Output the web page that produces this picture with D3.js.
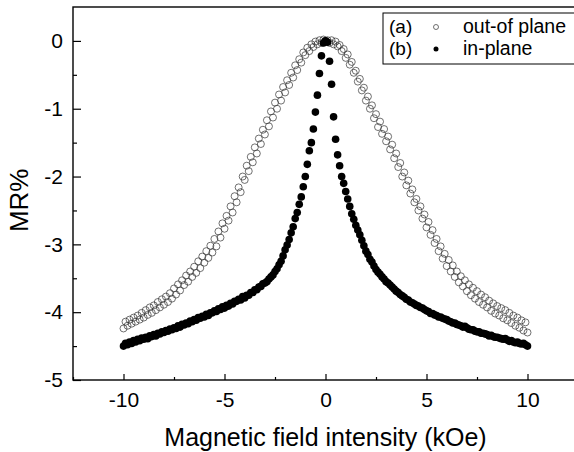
<!DOCTYPE html>
<html>
<head>
<meta charset="utf-8">
<script src="https://d3js.org/d3.v7.min.js"></script>
<style>
  body { margin: 0; background: #fff; }
  text { font-family: 'Liberation Sans', Arial, sans-serif; fill: #000; }
</style>
</head>
<body>
<svg id="svg" width="574" height="452"></svg>
<script>
// field sweep in kOe
const field = [
  -10.0,-9.9,-9.8,-9.7,-9.6,-9.5,-9.4,-9.3,-9.2,-9.1,
  -9.0,-8.9,-8.8,-8.7,-8.6,-8.5,-8.4,-8.3,-8.2,-8.1,
  -8.0,-7.9,-7.8,-7.7,-7.6,-7.5,-7.4,-7.3,-7.2,-7.1,
  -7.0,-6.9,-6.8,-6.7,-6.6,-6.5,-6.4,-6.3,-6.2,-6.1,
  -6.0,-5.9,-5.8,-5.7,-5.6,-5.5,-5.4,-5.3,-5.2,-5.1,
  -5.0,-4.9,-4.8,-4.7,-4.6,-4.5,-4.4,-4.3,-4.2,-4.1,
  -4.0,-3.9,-3.8,-3.7,-3.6,-3.5,-3.4,-3.3,-3.2,-3.1,
  -3.0,-2.9,-2.8,-2.7,-2.6,-2.5,-2.4,-2.3,-2.2,-2.1,
  -2.0,-1.9,-1.8,-1.7,-1.6,-1.5,-1.4,-1.3,-1.2,-1.1,
  -1.0,-0.9,-0.8,-0.7,-0.6,-0.5,-0.4,-0.3,-0.2,-0.1,
  0.0,
  0.1,0.2,0.3,0.4,0.5,0.6,0.7,0.8,0.9,1.0,
  1.1,1.2,1.3,1.4,1.5,1.6,1.7,1.8,1.9,2.0,
  2.1,2.2,2.3,2.4,2.5,2.6,2.7,2.8,2.9,3.0,
  3.1,3.2,3.3,3.4,3.5,3.6,3.7,3.8,3.9,4.0,
  4.1,4.2,4.3,4.4,4.5,4.6,4.7,4.8,4.9,5.0,
  5.1,5.2,5.3,5.4,5.5,5.6,5.7,5.8,5.9,6.0,
  6.1,6.2,6.3,6.4,6.5,6.6,6.7,6.8,6.9,7.0,
  7.1,7.2,7.3,7.4,7.5,7.6,7.7,7.8,7.9,8.0,
  8.1,8.2,8.3,8.4,8.5,8.6,8.7,8.8,8.9,9.0,
  9.1,9.2,9.3,9.4,9.5,9.6,9.7,9.8,9.9,10.0
];

// (a) out-of plane, MR%
const outOfPlane = [
  -4.24,-4.14,-4.20,-4.11,-4.17,-4.08,-4.14,-4.05,-4.11,-4.01,
  -4.08,-3.97,-4.04,-3.93,-4.01,-3.90,-3.97,-3.85,-3.93,-3.81,
  -3.89,-3.77,-3.85,-3.72,-3.80,-3.65,-3.74,-3.59,-3.68,-3.53,
  -3.60,-3.46,-3.55,-3.40,-3.48,-3.33,-3.42,-3.25,-3.35,-3.18,
  -3.27,-3.10,-3.20,-3.02,-3.12,-2.92,-3.03,-2.81,-2.90,-2.69,
  -2.77,-2.58,-2.65,-2.44,-2.53,-2.29,-2.38,-2.16,-2.23,-2.00,
  -2.05,-1.84,-1.92,-1.71,-1.79,-1.57,-1.66,-1.44,-1.52,-1.31,
  -1.38,-1.17,-1.26,-1.04,-1.13,-0.91,-1.00,-0.79,-0.88,-0.68,
  -0.76,-0.58,-0.65,-0.47,-0.54,-0.36,-0.43,-0.27,-0.32,-0.17,
  -0.21,-0.10,-0.15,-0.05,-0.09,-0.01,-0.05,0.01,-0.03,0.02,
  0.00,
  0.01,-0.03,0.01,-0.05,-0.01,-0.08,-0.06,-0.15,-0.12,-0.25,
  -0.20,-0.35,-0.31,-0.47,-0.44,-0.60,-0.56,-0.73,-0.69,-0.88,
  -0.82,-1.00,-0.95,-1.14,-1.08,-1.27,-1.19,-1.37,-1.30,-1.48,
  -1.41,-1.60,-1.53,-1.73,-1.66,-1.86,-1.80,-2.00,-1.94,-2.13,
  -2.06,-2.25,-2.19,-2.38,-2.33,-2.50,-2.44,-2.62,-2.56,-2.75,
  -2.67,-2.86,-2.79,-2.98,-2.92,-3.10,-3.03,-3.21,-3.14,-3.32,
  -3.23,-3.40,-3.31,-3.48,-3.40,-3.56,-3.47,-3.62,-3.53,-3.69,
  -3.59,-3.75,-3.64,-3.80,-3.69,-3.85,-3.74,-3.89,-3.78,-3.93,
  -3.83,-3.98,-3.87,-4.02,-3.91,-4.05,-3.94,-4.09,-3.97,-4.12,
  -4.01,-4.16,-4.05,-4.20,-4.08,-4.23,-4.12,-4.27,-4.15,-4.30
];

// (b) in-plane, MR%
const inPlane = [
  -4.50,-4.46,-4.48,-4.44,-4.46,-4.42,-4.44,-4.40,-4.42,-4.38,
  -4.40,-4.37,-4.39,-4.35,-4.36,-4.33,-4.35,-4.31,-4.32,-4.29,
  -4.30,-4.27,-4.28,-4.25,-4.26,-4.23,-4.24,-4.20,-4.22,-4.18,
  -4.19,-4.16,-4.17,-4.13,-4.14,-4.11,-4.12,-4.08,-4.09,-4.06,
  -4.07,-4.03,-4.05,-4.01,-4.01,-3.98,-3.99,-3.95,-3.96,-3.92,
  -3.94,-3.90,-3.91,-3.87,-3.88,-3.84,-3.84,-3.81,-3.82,-3.77,
  -3.79,-3.75,-3.75,-3.71,-3.71,-3.67,-3.67,-3.63,-3.62,-3.58,
  -3.57,-3.55,-3.51,-3.48,-3.45,-3.40,-3.36,-3.30,-3.25,-3.17,
  -3.08,-3.01,-2.93,-2.83,-2.74,-2.62,-2.53,-2.41,-2.30,-2.15,
  -2.00,-1.82,-1.62,-1.50,-1.30,-1.05,-0.80,-0.48,-0.22,-0.03,
  0.00,
  -0.02,-0.30,-0.64,-1.12,-1.45,-1.68,-1.84,-2.00,-2.10,-2.22,
  -2.33,-2.44,-2.55,-2.63,-2.72,-2.79,-2.86,-2.94,-3.02,-3.10,
  -3.15,-3.22,-3.26,-3.32,-3.37,-3.41,-3.44,-3.48,-3.51,-3.55,
  -3.57,-3.60,-3.63,-3.66,-3.69,-3.71,-3.74,-3.76,-3.78,-3.81,
  -3.82,-3.85,-3.86,-3.88,-3.90,-3.91,-3.93,-3.94,-3.96,-3.98,
  -3.99,-4.02,-4.02,-4.04,-4.05,-4.07,-4.07,-4.09,-4.10,-4.11,
  -4.13,-4.14,-4.16,-4.16,-4.18,-4.19,-4.20,-4.22,-4.21,-4.23,
  -4.25,-4.26,-4.26,-4.28,-4.29,-4.29,-4.31,-4.31,-4.32,-4.33,
  -4.35,-4.34,-4.36,-4.37,-4.37,-4.38,-4.39,-4.40,-4.39,-4.41,
  -4.43,-4.42,-4.44,-4.45,-4.44,-4.46,-4.47,-4.46,-4.48,-4.50
];

const xTicks = [-10, -5, 0, 5, 10];
const xMinor = [-12.5, -7.5, -2.5, 2.5, 7.5, 12.5];
const yTicks = [0, -1, -2, -3, -4, -5];
const yMinor = [-0.5, -1.5, -2.5, -3.5, -4.5];
const legendItems = [
  { tag: '(a)', label: 'out-of plane', filled: false },
  { tag: '(b)', label: 'in-plane', filled: true }
];

const svg = d3.select('#svg');
const mLeft = 73, mTop = 7, mRight = 578, mBottom = 380;

const x = d3.scaleLinear().domain([-12.5, 12.5]).range([mLeft, mRight]);
const y = d3.scaleLinear().domain([-5, 0.5]).range([mBottom, mTop]);

// points
const g = svg.append('g');
g.selectAll('circle.oop')
  .data(field.map((f, i) => [f, outOfPlane[i]]))
  .join('circle')
  .attr('class', 'oop')
  .attr('cx', d => x(d[0]))
  .attr('cy', d => y(d[1]))
  .attr('r', 3.5)
  .attr('fill', 'none')
  .attr('stroke', '#333')
  .attr('stroke-width', 0.7);

g.selectAll('circle.ip')
  .data(field.map((f, i) => [f, inPlane[i]]))
  .join('circle')
  .attr('class', 'ip')
  .attr('cx', d => x(d[0]))
  .attr('cy', d => y(d[1]))
  .attr('r', 3.8)
  .attr('fill', '#000');

// axes
const fmt = d => d < 0 ? '-' + Math.abs(d) : String(d);

svg.append('g')
  .attr('transform', `translate(0,${mBottom})`)
  .call(d3.axisBottom(x).tickValues(xTicks).tickSize(-6).tickPadding(12).tickFormat(fmt));
svg.append('g')
  .attr('transform', `translate(0,${mBottom})`)
  .call(d3.axisBottom(x).tickValues(xMinor).tickSize(-3).tickFormat(''));

svg.append('g')
  .attr('transform', `translate(${mLeft},0)`)
  .call(d3.axisLeft(y).tickValues(yTicks).tickSize(-8).tickPadding(10).tickFormat(fmt));
svg.append('g')
  .attr('transform', `translate(${mLeft},0)`)
  .call(d3.axisLeft(y).tickValues(yMinor).tickSize(-4).tickFormat(''));

svg.selectAll('.tick text')
  .style('font-size', '21px')
  .style('font-family', "'Liberation Sans', Arial, sans-serif");
svg.selectAll('.tick line').attr('stroke-width', 1.2);
svg.selectAll('.domain').remove();

// frame
svg.append('rect')
  .attr('x', mLeft).attr('y', mTop)
  .attr('width', mRight - mLeft).attr('height', mBottom - mTop)
  .attr('fill', 'none')
  .attr('stroke', '#000')
  .attr('stroke-width', 1.4);

// titles
svg.append('text')
  .attr('x', x(0))
  .attr('y', 446)
  .attr('text-anchor', 'middle')
  .style('font-size', '25px')
  .text('Magnetic field intensity (kOe)');

svg.append('text')
  .attr('transform', `translate(28,${y(-2.35)}) rotate(-90)`)
  .attr('text-anchor', 'middle')
  .style('font-size', '26px')
  .text('MR%');

// legend
const lg = svg.append('g');
lg.append('rect')
  .attr('x', 383).attr('y', 13)
  .attr('width', 200).attr('height', 51)
  .attr('fill', '#fff')
  .attr('stroke', '#000')
  .attr('stroke-width', 1);

legendItems.forEach((it, i) => {
  const base = 33 + i * 22;
  lg.append('text').attr('x', 389).attr('y', base).style('font-size', '19px').text(it.tag);
  lg.append('circle')
    .attr('cx', 436).attr('cy', base - 6)
    .attr('r', 2.5)
    .attr('fill', it.filled ? '#000' : 'none')
    .attr('stroke', it.filled ? 'none' : '#333')
    .attr('stroke-width', 0.7);
  lg.append('text').attr('x', 463).attr('y', base).style('font-size', '19.5px').text(it.label);
});
</script>
</body>
</html>
